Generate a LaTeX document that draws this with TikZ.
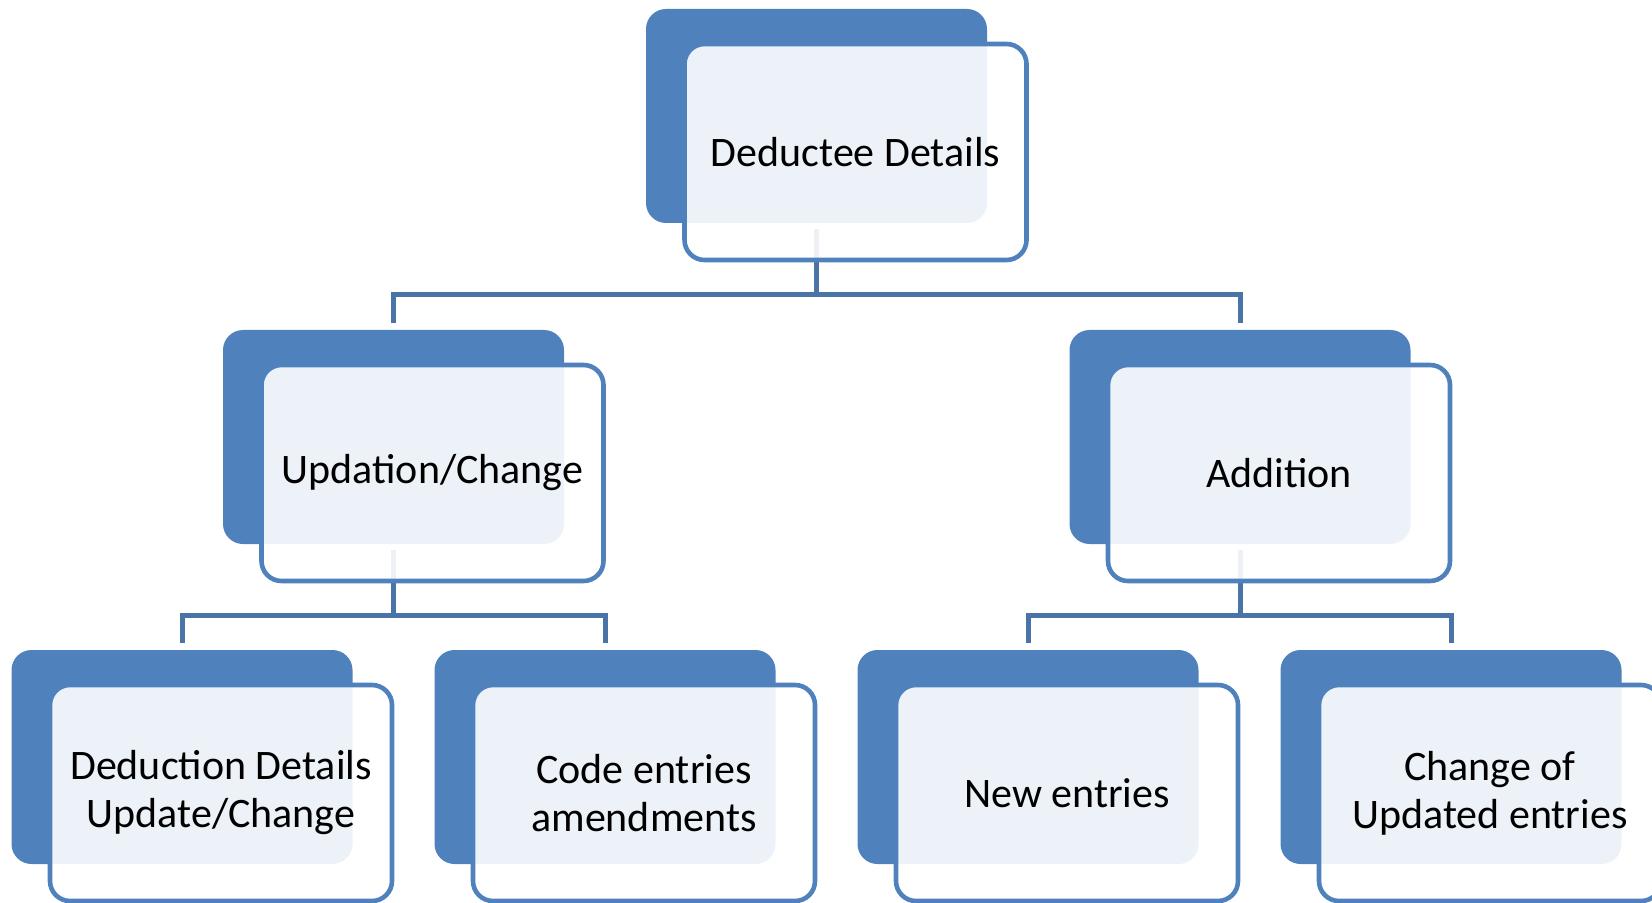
\documentclass[tikz,border=0pt]{standalone}
\usepackage{fontspec}
\setmainfont{Carlito}
\definecolor{boxblue}{HTML}{4F81BD}
\definecolor{linkblue}{HTML}{4A74A8}
\begin{document}
\begin{tikzpicture}
[x=0.5pt,y=-0.5pt,
 backdecorate/.style={rectangle,rounded corners=10pt,fill=boxblue,inner sep=0pt,
   minimum width=170.5pt,minimum height=107pt},%
 frontdecorate/.style={rectangle,rounded corners=10pt,draw=boxblue,line width=2.3pt,
   fill=white,fill opacity=0.9,text opacity=1,text=black,align=center,
   minimum width=171pt,minimum height=108pt,font=\fontsize{21}{24}\selectfont},%
 linedecorate/.style={-,line width=2.5pt,draw=linkblue}]
\useasboundingbox (0,0) rectangle (1652,903);
%% back boxes
\foreach \nodename/\x/\y in {top/816.5/116, upd/393.5/437, add/1240/437,
  ded/182/757, code/605/757, new/1028/757, chg/1451/757} {
  \node (\nodename-b) at (\x,\y) [backdecorate] {};
}
%% edges or lines
\foreach \startnode/\endnode in {top/upd, top/add, upd/ded, upd/code,
  add/new, add/chg} {
  \draw[linedecorate] ([yshift=-3pt]\startnode-b.south) -- ++(0,65)
    -| ([yshift=3.5pt]\endnode-b.north);
}
%% front boxes with the words
\foreach \nodename/\x/\y/\words in {top/816.5/116/{Deductee Details},
  upd/393.5/437/{Updation/Change}, add/1240/437/{Addition},
  ded/182/757/{Deduction Details\\Update/Change},
  code/605/757/{Code entries\\amendments}, new/1028/757/{New entries},
  chg/1451/757/{Change of\\Updated entries}} {
  \node (\nodename) at ({\x+39},{\y+36}) [frontdecorate] {\words};
}
\end{tikzpicture}
\end{document}
